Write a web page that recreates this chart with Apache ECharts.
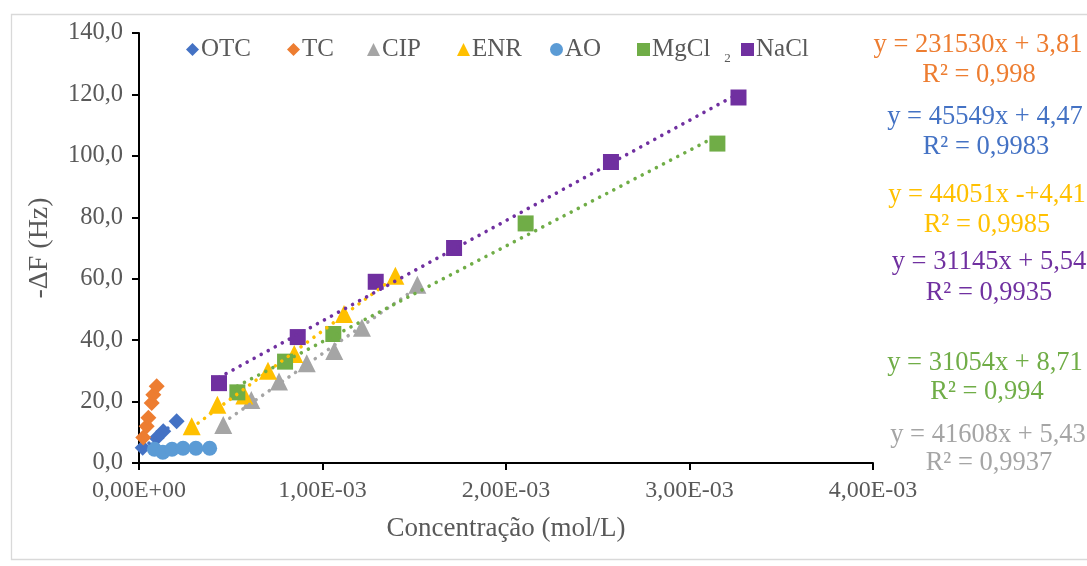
<!DOCTYPE html>
<html>
<head>
<meta charset="utf-8">
<script src="https://cdn.jsdelivr.net/npm/echarts@6/dist/echarts.min.js"></script>
<style>
html,body{margin:0;padding:0;background:#fff;}
#chart{width:1087px;height:566px;}
</style>
</head>
<body>
<div id="chart"></div>
<script>
// ---- data (x in mol/L, y in Hz) ----
const seriesNames = ['OTC', 'TC', 'CIP', 'ENR', 'AO', 'MgCl2', 'NaCl'];
const otcX = [0.020e-3, 0.096e-3, 0.132e-3, 0.205e-3];
const otcY = [5.0, 8.1, 10.3, 13.6];
const tcX = [0.023e-3, 0.042e-3, 0.051e-3, 0.069e-3, 0.078e-3, 0.0965e-3];
const tcY = [8.3, 12.0, 14.7, 19.5, 22.2, 25.0];
const cipX = [0.459e-3, 0.612e-3, 0.763e-3, 0.914e-3, 1.064e-3, 1.215e-3, 1.517e-3];
const cipY = [12.4, 20.5, 26.5, 32.5, 36.5, 44.0, 58.0];
const enrX = [0.287e-3, 0.427e-3, 0.574e-3, 0.703e-3, 0.846e-3, 1.117e-3, 1.397e-3];
const enrY = [12.0, 19.0, 22.0, 30.0, 35.5, 48.5, 61.0];
const aoX = [0.084e-3, 0.130e-3, 0.180e-3, 0.240e-3, 0.310e-3, 0.385e-3];
const aoY = [4.5, 3.5, 4.5, 4.8, 4.8, 4.8];
const mgX = [0.536e-3, 0.796e-3, 1.059e-3, 2.107e-3, 3.152e-3];
const mgY = [23.0, 33.0, 42.0, 78.0, 104.0];
const naX = [0.436e-3, 0.865e-3, 1.290e-3, 1.717e-3, 2.572e-3, 3.267e-3];
const naY = [26.0, 41.0, 59.0, 70.0, 98.0, 119.0];
const equationLines = [
  ['y = 231530x + 3,81', 'R² = 0,998'],
  ['y = 45549x + 4,47', 'R² = 0,9983'],
  ['y = 44051x -+4,41', 'R² = 0,9985'],
  ['y = 31145x + 5,54', 'R² = 0,9935'],
  ['y = 31054x + 8,71', 'R² = 0,994'],
  ['y = 41608x + 5,43', 'R² = 0,9937']
];
const xTickInterval = 0.001;
const yTickInterval = 20;

// ---- styles ----
const FONT = '"Liberation Serif", "Times New Roman", serif';
const TXT = '#595959';
const colors = {
  OTC: '#4472C4', TC: '#ED7D31', CIP: '#A5A5A5', ENR: '#FFC000',
  AO: '#5B9BD5', MgCl2: '#70AD47', NaCl: '#7030A0'
};
const symbols = {
  OTC: ['diamond', 16], TC: ['diamond', 16], CIP: ['triangle', 18], ENR: ['triangle', 18],
  AO: ['circle', 15], MgCl2: ['rect', 16], NaCl: ['rect', 16]
};
const dataMap = {
  OTC: [otcX, otcY], TC: [tcX, tcY], CIP: [cipX, cipY], ENR: [enrX, enrY],
  AO: [aoX, aoY], MgCl2: [mgX, mgY], NaCl: [naX, naY]
};
const zip = (xs, ys) => xs.map((x, i) => [x, ys[i]]);

// least-squares linear trendline over the data range (as Excel draws it)
function trend(xs, ys) {
  const n = xs.length;
  const mx = xs.reduce((a, b) => a + b, 0) / n;
  const my = ys.reduce((a, b) => a + b, 0) / n;
  let sxy = 0, sxx = 0;
  for (let i = 0; i < n; i++) { sxy += (xs[i] - mx) * (ys[i] - my); sxx += (xs[i] - mx) * (xs[i] - mx); }
  const b = sxy / sxx, a = my - b * mx;
  const x0 = Math.min(...xs), x1 = Math.max(...xs);
  return [[x0, a + b * x0], [x1, a + b * x1]];
}

const series = [];
seriesNames.forEach(name => {
  const [xs, ys] = dataMap[name];
  series.push({
    name: name, type: 'scatter', z: 2,
    symbol: symbols[name][0], symbolSize: symbols[name][1],
    itemStyle: { color: colors[name], opacity: 1 },
    data: zip(xs, ys)
  });
});
['OTC', 'TC', 'CIP', 'ENR', 'MgCl2', 'NaCl'].forEach(name => {
  const [xs, ys] = dataMap[name];
  series.push({
    name: name + ' trend', type: 'line', z: 5, symbol: 'none', silent: true,
    lineStyle: { color: colors[name], width: 3.6, type: [0.01, 8], cap: 'round' },
    data: trend(xs, ys)
  });
});

const legendLeft = [181, 282, 362, 452, 545, 632, 736];
const legends = seriesNames.map((name, i) => ({
  data: [name], left: legendLeft[i], top: 32, itemWidth: 13, itemHeight: 13, itemGap: 0,
  selectedMode: false,
  formatter: n => n === 'MgCl2' ? '{a|MgCl}{s|2}' : '{a|' + n + '}',
  textStyle: {
    fontFamily: FONT, color: TXT, fontSize: 25,
    rich: {
      a: { fontFamily: FONT, color: TXT, fontSize: 25, padding: [0, 0, 0, -3] },
      s: { fontFamily: FONT, color: TXT, fontSize: 13, padding: [18, 0, 0, 14] }
    }
  }
}));

const eqColors = [colors.TC, colors.OTC, colors.ENR, colors.NaCl, colors.MgCl2, colors.CIP];
const eqPos = [[978, 45, 979, 75], [985, 117, 986, 147], [987, 195, 987, 225],
               [989, 262, 989, 293], [985, 363, 987, 392], [988, 435, 989, 463]];
const graphics = [{
  type: 'rect', left: 9, top: 12, z: -10,
  shape: { width: 1100, height: 545 },
  style: { fill: 'none', stroke: '#D9D9D9', lineWidth: 1.3 }
}];
equationLines.forEach((pair, i) => {
  const p = eqPos[i];
  graphics.push({ type: 'text', x: p[0], y: p[1], style: { text: pair[0], fill: eqColors[i], font: '26.5px ' + FONT, align: 'center', verticalAlign: 'middle' } });
  graphics.push({ type: 'text', x: p[2], y: p[3], style: { text: pair[1], fill: eqColors[i], font: '26.5px ' + FONT, align: 'center', verticalAlign: 'middle' } });
});

const chart = echarts.init(document.getElementById('chart'), null, { renderer: 'canvas' });
chart.setOption({
  animation: false,
  backgroundColor: '#fff',
  grid: { left: 139, right: 214, top: 33, bottom: 103 },
  legend: legends,
  xAxis: {
    type: 'value', min: 0, max: 0.004, interval: xTickInterval,
    name: 'Concentração (mol/L)', nameLocation: 'middle', nameGap: 52,
    nameTextStyle: { fontFamily: FONT, fontSize: 27, color: TXT },
    axisLine: { show: true, onZero: false, lineStyle: { color: '#000', width: 2 } },
    axisTick: { show: true, length: 7, lineStyle: { color: '#000', width: 2 } },
    axisLabel: {
      fontFamily: FONT, fontSize: 24, color: TXT, margin: 16,
      formatter: v => {
        const s = Number(v).toExponential(2);
        const [m, e] = s.split('e');
        const ex = parseInt(e, 10);
        const sign = ex < 0 ? '-' : '+';
        return m.replace('.', ',') + 'E' + sign + String(Math.abs(ex)).padStart(2, '0');
      }
    },
    splitLine: { show: false }
  },
  yAxis: {
    type: 'value', min: 0, max: 140, interval: yTickInterval,
    name: '-ΔF (Hz)', nameLocation: 'middle', nameGap: 85,
    nameTextStyle: { fontFamily: FONT, fontSize: 28, color: TXT },
    axisLine: { show: true, lineStyle: { color: '#000', width: 2 } },
    axisTick: { show: true, length: 7, lineStyle: { color: '#000', width: 2 } },
    axisLabel: {
      fontFamily: FONT, fontSize: 24.5, color: TXT, margin: 16,
      formatter: v => Number(v).toFixed(1).replace('.', ',')
    },
    splitLine: { show: false }
  },
  graphic: graphics,
  series: series
});
</script>
</body>
</html>
